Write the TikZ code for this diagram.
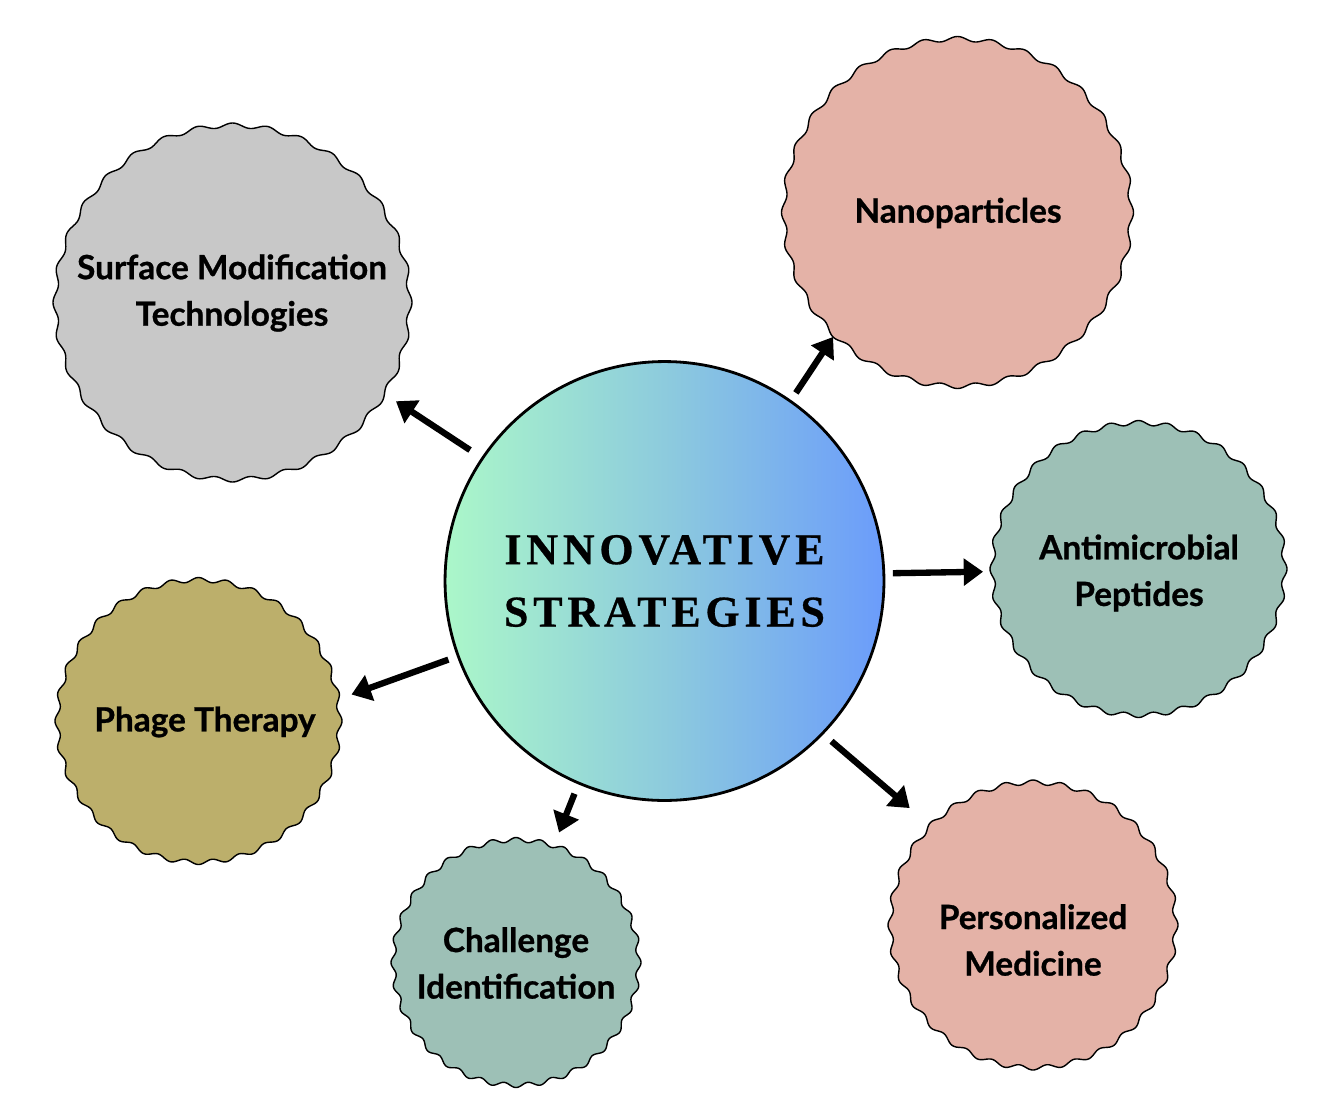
\documentclass[tikz,border=0pt]{standalone}
\usepackage{fontspec}
\usetikzlibrary{arrows.meta}
\newfontfamily\labelfont[BoldFeatures={FakeBold=0.8}]{Lato}
\newfontfamily\titlefont[LetterSpace=11, BoldFeatures={FakeBold=0.6}]{Liberation Serif}
\definecolor{grayfill}{HTML}{C8C8C8}
\definecolor{pinkfill}{HTML}{E4B2A7}
\definecolor{tealfill}{HTML}{9DC0B6}
\definecolor{olivefill}{HTML}{BCAF6B}
\definecolor{gradL}{HTML}{ABF7C9}
\definecolor{gradM}{HTML}{8DCBDD}
\definecolor{gradR}{HTML}{6B9CFB}
\newcommand{\wavycirc}[4]{%
  \draw[wavyline, fill=#4] plot[domain=0:360, samples=721]
    ({#1+(#3-2.3+2.3*cos(32*\x))*cos(\x)}, {#2+(#3-2.3+2.3*cos(32*\x))*sin(\x)}) -- cycle;}
\tikzset{
  wavyline/.style={draw=black, line width=0.8pt, line join=round},
  satcirc/.style={circle, inner sep=0pt, outer sep=0pt},
  hub/.style={circle, draw=black, line width=1.6pt, inner sep=0pt, outer sep=0pt,
    left color=gradL, right color=gradR, middle color=gradM,
    align=center, font=\titlefont\bfseries\fontsize{25}{35.5}\selectfont},
  lbl/.style={align=center, inner sep=0pt, font=\labelfont\bfseries\fontsize{19}{26.5}\selectfont},
  arr/.style={line width=3.6pt, -{Triangle[length=11pt,width=15pt]}},
}
\begin{document}
\begin{tikzpicture}[x=0.02cm, y=-0.02cm]
\useasboundingbox (0,0) rectangle (1318,1110);

% central hub
\node[hub, minimum size=8.78cm] (c) at (664.5,581) {INNOVATIVE\\STRATEGIES};

% satellites
\wavycirc{232.5}{302.5}{179.5}{grayfill}
\node[satcirc, minimum size=7.18cm] (surf) at (232.5,302.5) {};
\node[lbl] (surfT) at (232,293) {Surface Modification\\Technologies};

\wavycirc{957.5}{212.5}{176}{pinkfill}
\node[satcirc, minimum size=7.04cm] (nano) at (957.5,212.5) {};
\node[lbl] (nanoT) at (958,213) {Nanoparticles};

\wavycirc{1138.5}{569}{148.5}{tealfill}
\node[satcirc, minimum size=5.94cm] (amp) at (1138.5,569) {};
\node[lbl] (ampT) at (1139,573) {Antimicrobial\\Peptides};

\wavycirc{198.5}{721}{143.5}{olivefill}
\node[satcirc, minimum size=5.74cm] (phage) at (198.5,721) {};
\node[lbl] (phageT) at (205,722) {Phage Therapy};

\wavycirc{516}{962.5}{125}{tealfill}
\node[satcirc, minimum size=5.0cm] (chal) at (516,962.5) {};
\node[lbl] (chalT) at (516,963) {Challenge\\Identification};

\wavycirc{1033}{925}{145}{pinkfill}
\node[satcirc, minimum size=5.8cm] (pers) at (1033,925) {};
\node[lbl] (persT) at (1033,940) {Personalized\\Medicine};

% connectors
\draw[arr, shorten <=0.30cm, shorten >=0.23cm] (c.146) -- (surf.-31.7);
\draw[arr, shorten <=0.20cm, shorten >=0cm] (c.55.4) -- (nano.225.5);
\draw[arr, shorten <=0.18cm, shorten >=0.14cm] (c.2.26) -- (amp.181.1);
\draw[arr, shorten <=0.21cm, shorten >=0.24cm] (c.200.4) -- (phage.9.25);
\draw[arr, shorten <=0.23cm, shorten >=0.24cm] (c.247.8) -- (chal.72.2);
\draw[arr, shorten <=0.24cm, shorten >=0.50cm] (c.316.7) -- (pers.136.4);
\end{tikzpicture}
\end{document}
